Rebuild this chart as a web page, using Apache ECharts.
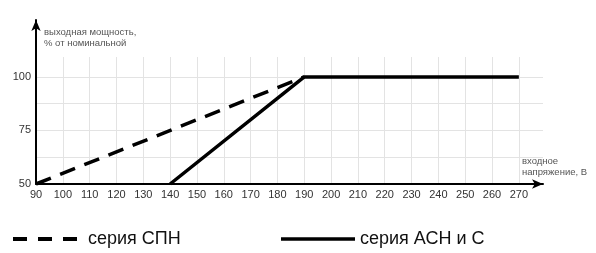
<!DOCTYPE html>
<html>
<head>
<meta charset="utf-8">
<script src="https://cdn.jsdelivr.net/npm/echarts@6/dist/echarts.min.js"></script>
<style>
html,body{margin:0;padding:0;background:#fff;}
#c{width:596px;height:253px;}
</style>
</head>
<body>
<div id="c"></div>
<script>
// Data
const seriesNames = ['серия СПН', 'серия АСН и С'];
const spnVoltage = [90, 190];
const spnPower = [50, 100];
const asnVoltage = [140, 190, 270];
const asnPower = [50, 100, 100];
const yTickLabels = [50, 75, 100];
const xAxisName = 'входное\nнапряжение, В';
const yAxisName = 'выходная мощность,\n% от номинальной';

const font = 'Liberation Sans, Arial, sans-serif';
const chart = echarts.init(document.getElementById('c'), null, {renderer: 'canvas'});

chart.setOption({
  animation: false,
  backgroundColor: '#fff',
  textStyle: {fontFamily: font},
  grid: [
    {left: 36, right: 53, top: 57, bottom: 69, containLabel: false},
    {left: 36, width: 1, top: 20, bottom: 69, containLabel: false}
  ],
  xAxis: [
    {
      type: 'value', gridIndex: 0, min: 90, max: 279, interval: 10,
      name: xAxisName, nameLocation: 'end', nameGap: -21,
      nameTextStyle: {color: '#555', fontSize: 9.5, align: 'left', verticalAlign: 'bottom', lineHeight: 11, padding: [0, 0, 6, 0], fontFamily: font},
      axisLine: {show: true, symbol: ['none', 'arrow'], symbolSize: [7, 11], lineStyle: {color: '#000', width: 2}},
      axisTick: {show: false},
      axisLabel: {color: '#333', fontSize: 11, margin: 5, showMaxLabel: false, fontFamily: font,
        formatter: v => (v % 10 === 0 && v <= 270) ? String(v) : ''},
      splitLine: {show: true, showMaxLine: false, lineStyle: {color: '#e3e3e3', width: 1}}
    },
    {type: 'value', gridIndex: 1, show: false, min: 0, max: 1}
  ],
  yAxis: [
    {
      type: 'value', gridIndex: 0, min: 50, max: 109.3, interval: 12.5,
      axisLine: {show: false},
      axisTick: {show: false},
      axisLabel: {color: '#333', fontSize: 11, margin: 5, showMaxLabel: false, fontFamily: font,
        formatter: v => yTickLabels.indexOf(v) >= 0 ? String(v) : ''},
      splitLine: {show: true, showMaxLine: false, showMinLine: false, lineStyle: {color: '#e3e3e3', width: 1}}
    },
    {
      type: 'value', gridIndex: 1, min: 0, max: 1,
      name: yAxisName, nameLocation: 'end', nameGap: -7,
      nameTextStyle: {color: '#555', fontSize: 9.5, align: 'left', verticalAlign: 'top', lineHeight: 11, padding: [0, 0, 0, 8], fontFamily: font},
      axisLine: {show: true, symbol: ['none', 'arrow'], symbolSize: [7, 11], lineStyle: {color: '#000', width: 2}},
      axisTick: {show: false},
      axisLabel: {show: false},
      splitLine: {show: false}
    }
  ],
  legend: [
    {
      id: 'lg1', orient: 'horizontal',
      data: [{name: seriesNames[0], icon: 'path://M0,0H14V4H0Z M25,0H39V4H25Z M50,0H64V4H50Z'}],
      left: 8, top: 225, itemWidth: 64, itemHeight: 4,
      itemStyle: {color: '#000', borderWidth: 0},
      lineStyle: {width: 0},
      textStyle: {fontSize: 18, color: '#111', fontFamily: font, padding: [0, 0, 0, 6]}
    },
    {
      id: 'lg2', orient: 'horizontal',
      data: [{name: seriesNames[1], icon: 'rect'}],
      left: 276, top: 225, itemWidth: 74, itemHeight: 3.5,
      itemStyle: {color: '#000', borderWidth: 0},
      lineStyle: {width: 0},
      textStyle: {fontSize: 18, color: '#111', fontFamily: font, padding: [0, 0, 0, 0]}
    }
  ],
  series: [
    {
      name: seriesNames[0], type: 'line', xAxisIndex: 0, yAxisIndex: 0,
      data: spnVoltage.map((v, i) => [v, spnPower[i]]),
      symbol: 'none', itemStyle: {color: '#000'},
      lineStyle: {color: '#000', width: 3.5, type: [16, 10]}
    },
    {
      name: seriesNames[1], type: 'line', xAxisIndex: 0, yAxisIndex: 0,
      data: asnVoltage.map((v, i) => [v, asnPower[i]]),
      symbol: 'none', itemStyle: {color: '#000'},
      lineStyle: {color: '#000', width: 3.5, type: 'solid'}
    }
  ]
});
</script>
</body>
</html>
